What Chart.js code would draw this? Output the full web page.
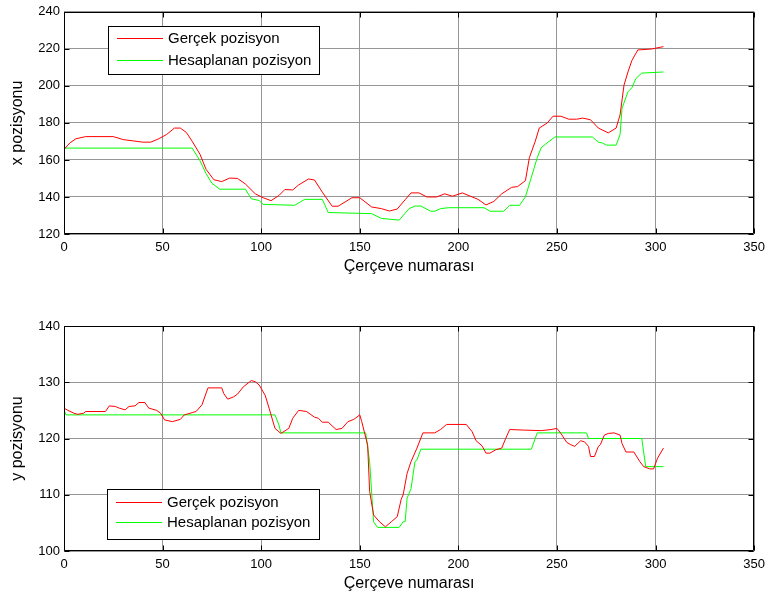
<!DOCTYPE html>
<html>
<head>
<meta charset="utf-8">
<script src="https://cdn.jsdelivr.net/npm/chart.js@4"></script>
<style>
  html, body { margin: 0; padding: 0; background: #fff; }
  #wrap { position: relative; width: 771px; height: 601px; background: #fff; }
  #wrap canvas { position: absolute; left: 0; }
  #c1 { top: 0; }
  #c2 { top: 300px; }
</style>
</head>
<body>
<div id="wrap">
  <canvas id="c1" width="771" height="300"></canvas>
  <canvas id="c2" width="771" height="301"></canvas>
</div>
<script>
// Frame numbers and positions, x coordinate
const xRealFrames = [0,3,6,11,25,30,40,44,48,52,56,59,62,65,69,72,76,80,84,88,92,97,101,105,109,112,116,119,124,127,131,136,139,143,146,150,156,161,165,169,173,176,180,184,189,193,197,202,207,210,214,218,222,227,230,234,236,239,241,245,248,252,256,260,263,267,271,276,280,282,284,286,288,291,298,304];
const xRealValues = [165.7,169.2,171.4,172.6,172.6,171,169.6,169.6,171.4,173.7,177.2,177.2,174.9,170.1,163,155,149.3,148.3,150.2,150,147,141.7,139.6,138,140.8,144,143.8,146.5,149.7,149.2,142.6,135,135,137.6,139.6,139.6,134.6,133.7,132.4,133.5,138.5,142.2,142.2,140,140,141.7,140.4,142.2,140,138.7,135.7,137.6,141.7,145.2,145.6,148.8,161.2,170.1,177.2,179.9,183.6,183.6,182,182,182.6,181.7,177.2,174.6,177.2,184.3,200.4,207.5,213.7,219.4,219.9,221.2];

const xEstFrames = [0,65,69,72,75,79,92,95,99,101,117,122,131,134,156,161,170,175,178,181,186,188,191,195,213,216,223,226,231,234,237,240,242,245,249,268,271,273,275,280,282,283,286,288,290,293,304];
const xEstValues = [166.4,166.4,159.5,152.7,147.4,144.2,144.2,139,138.1,136,135.5,138.7,138.7,131.6,131,128.4,127.5,133.7,135.1,135.1,132.3,132.3,133.7,134.2,134.2,132.3,132.3,135.5,135.5,140,150.6,161.2,166.6,169.2,172.4,172.4,169.6,169.2,168,168,173.7,187.9,196.8,199,203.9,206.9,207.5];

// Frame numbers and positions, y coordinate
const yRealFrames = [0,2,5,7,10,11,21,23,26,28,31,33,36,38,41,43,47,49,51,55,59,61,65,67,70,73,80,81,83,86,88,91,95,97,99,102,104,107,110,114,116,119,123,127,129,131,134,138,141,144,147,150,151,154,155,157,160,163,166,169,171,172,174,176,179,182,188,191,194,204,207,209,212,214,216,219,222,224,226,233,242,247,250,252,255,257,259,262,264,266,267,269,271,272,274,276,279,282,283,285,289,292,294,297,299,301,304];
const yRealValues = [125.4,125,124.5,124.3,124.5,124.8,124.8,125.8,125.7,125.4,125.1,125.7,125.8,126.4,126.4,125.4,125,124.5,123.3,123,123.4,124.2,124.6,124.8,126,129,129,128,127,127.4,127.9,129.2,130.3,130.1,129.5,127.7,125.4,121.8,120.9,121.8,123.6,125,124.8,123.8,123.6,122.9,122.9,121.6,121.8,123,123.4,124.2,123,118.8,110.6,106.4,105.2,104.3,105.2,106.1,109.2,110,113.8,115.9,118.3,121,121,121.6,122.5,122.5,121.2,119.6,118.7,117.4,117.4,118,118.3,120,121.6,121.5,121.4,121.6,121.8,120.9,119.3,118.9,118.6,119.6,119.4,118.6,116.8,116.8,118.6,118.9,120.6,120.9,121,120.6,119.1,117.6,117.6,115.9,115,114.6,114.6,116.5,118.3];

const yEstFrames = [0,1,107,109,110,153,155,157,159,170,172,173,174,176,178,179,181,237,240,265,266,293,295,304];
const yEstValues = [125.1,124.2,124.2,122.4,121,121,115.9,105.2,104.2,104.2,105.2,105.2,109.4,111.1,115.9,116.2,118.1,118.1,121,121,120,120,115,115];

// Labels and axis ranges
const seriesNames = ['Gerçek pozisyon', 'Hesaplanan pozisyon'];
const xAxisTitle = 'Çerçeve numarası';
const topYTitle = 'x pozisyonu';
const bottomYTitle = 'y pozisyonu';
const frameTicks = [0, 50, 100, 150, 200, 250, 300, 350];
const topYTicks = [120, 140, 160, 180, 200, 220, 240];
const bottomYTicks = [100, 110, 120, 130, 140];

const FONT = "'Liberation Sans', Arial, sans-serif";
const RED = '#ff0000';
const GREEN = '#00ff00';
const GRID = '#969696';

function toPoints(xs, ys) {
  return xs.map((x, i) => ({ x: x, y: ys[i] }));
}

// Box frame, inward tick marks and an in-plot legend box
const boxPlugin = {
  id: 'boxFrame',
  afterDatasetsDraw(chart, args, opts) {
    const ctx = chart.ctx;
    const a = chart.chartArea;
    const xs = chart.scales.x, ys = chart.scales.y;
    ctx.save();
    ctx.strokeStyle = '#000';
    ctx.lineWidth = 1;
    const L = Math.round(a.left) + 0.5, R = Math.round(a.right) - 0.5;
    const T = Math.round(a.top) + 0.5, B = Math.round(a.bottom) - 0.5;
    ctx.beginPath();
    ctx.rect(L, T, R - L, B - T);
    ctx.stroke();
    const tl = 5;
    ctx.beginPath();
    xs.ticks.forEach(t => {
      const px = Math.round(xs.getPixelForValue(t.value)) + 0.5;
      ctx.moveTo(px, T); ctx.lineTo(px, T + tl);
      ctx.moveTo(px, B); ctx.lineTo(px, B - tl);
    });
    ys.ticks.forEach(t => {
      const py = Math.round(ys.getPixelForValue(t.value)) + 0.5;
      ctx.moveTo(L, py); ctx.lineTo(L + tl, py);
      ctx.moveTo(R, py); ctx.lineTo(R - tl, py);
    });
    ctx.stroke();

    // legend
    const lx = Math.round(a.left + opts.dx);
    const ly = Math.round(opts.fromBottom ? a.bottom - opts.dy - opts.h : a.top + opts.dy);
    ctx.fillStyle = '#fff';
    ctx.fillRect(lx, ly, opts.w, opts.h);
    ctx.strokeStyle = '#000';
    ctx.strokeRect(lx + 0.5, ly + 0.5, opts.w, opts.h);
    ctx.font = '15px ' + FONT;
    ctx.textBaseline = 'middle';
    ctx.textAlign = 'left';
    chart.data.datasets.forEach((ds, i) => {
      const cy = Math.round(ly + opts.row0 + i * opts.rowGap);
      ctx.fillStyle = ds.borderColor;
      ctx.fillRect(lx + 9, cy, 46, 1);
      ctx.fillStyle = '#000';
      ctx.fillText(ds.label, lx + 60, cy + 1);
    });
    ctx.restore();
  }
};

function makeChart(id, cfg) {
  return new Chart(document.getElementById(id), {
    type: 'line',
    data: {
      datasets: [
        { label: seriesNames[0], data: toPoints(cfg.rf, cfg.rv), borderColor: RED, borderWidth: 1, pointRadius: 0, tension: 0, fill: false },
        { label: seriesNames[1], data: toPoints(cfg.ef, cfg.ev), borderColor: GREEN, borderWidth: 1, pointRadius: 0, tension: 0, fill: false }
      ]
    },
    options: {
      responsive: false,
      animation: false,
      devicePixelRatio: 1,
      layout: { padding: { left: 0, right: 15, top: cfg.padTop, bottom: 0 } },
      plugins: {
        legend: { display: false },
        tooltip: { enabled: false },
        boxFrame: cfg.legend
      },
      scales: {
        x: {
          type: 'linear',
          min: frameTicks[0], max: frameTicks[frameTicks.length - 1],
          afterBuildTicks: s => { s.ticks = frameTicks.map(v => ({ value: v })); },
          afterFit: s => { s.height = cfg.xAxisH; },
          grid: { color: GRID, lineWidth: 1, drawTicks: false },
          border: { display: false },
          ticks: { color: '#000', padding: 6, maxRotation: 0, font: { family: FONT, size: 13 } },
          title: { display: true, text: xAxisTitle, color: '#000', font: { family: FONT, size: 16 }, padding: { top: 0, bottom: cfg.xTitlePad } }
        },
        y: {
          type: 'linear',
          min: cfg.yTicks[0], max: cfg.yTicks[cfg.yTicks.length - 1],
          afterBuildTicks: s => { s.ticks = cfg.yTicks.map(v => ({ value: v })); },
          afterFit: s => { s.width = 64; },
          grid: { color: GRID, lineWidth: 1, drawTicks: false },
          border: { display: false },
          ticks: { color: '#000', padding: 4, font: { family: FONT, size: 13 } },
          title: { display: true, text: cfg.yTitle, color: '#000', font: { family: FONT, size: 16 }, padding: { top: 8, bottom: 0 } }
        }
      }
    },
    plugins: [boxPlugin]
  });
}

makeChart('c1', {
  rf: xRealFrames, rv: xRealValues, ef: xEstFrames, ev: xEstValues,
  yTicks: topYTicks, yTitle: topYTitle,
  padTop: 9, xAxisH: 66, xTitlePad: 24,
  legend: { dx: 44, dy: 14, w: 211, h: 48, row0: 12, rowGap: 22, fromBottom: false }
});

makeChart('c2', {
  rf: yRealFrames, rv: yRealValues, ef: yEstFrames, ev: yEstValues,
  yTicks: bottomYTicks, yTitle: bottomYTitle,
  padTop: 26, xAxisH: 50, xTitlePad: 8,
  legend: { dx: 43, dy: 12, w: 212, h: 50, row0: 13, rowGap: 20, fromBottom: true }
});
</script>
</body>
</html>
